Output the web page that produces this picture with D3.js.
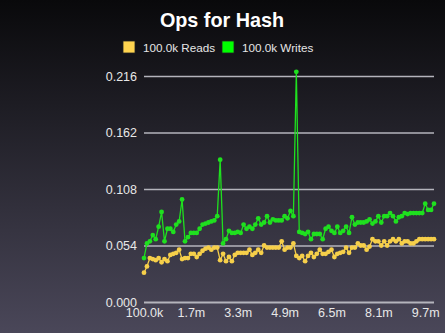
<!DOCTYPE html>
<html>
<head>
<meta charset="utf-8">
<script src="https://cdn.jsdelivr.net/npm/d3@7/dist/d3.min.js"></script>
<style>
  html, body { margin: 0; padding: 0; background: #000; }
  svg { display: block; font-family: "Liberation Sans", Arial, Helvetica, sans-serif; }
</style>
</head>
<body>
<svg id="chart" width="445" height="333"></svg>
<script>
// Operation counts (in 100k steps) on the x axis
const opCounts = d3.range(100).map(i => (i + 1) * 100000);

// Seconds per 100k operations
const readTimes = [
  0.028, 0.034, 0.042, 0.041, 0.040, 0.042, 0.038, 0.041, 0.039, 0.045,
  0.046, 0.047, 0.050, 0.041, 0.042, 0.042, 0.046, 0.046, 0.043, 0.046,
  0.049, 0.051, 0.052, 0.050, 0.052, 0.052, 0.040, 0.046, 0.039, 0.043,
  0.039, 0.045, 0.047, 0.047, 0.047, 0.047, 0.050, 0.045, 0.047, 0.050,
  0.047, 0.054, 0.052, 0.052, 0.052, 0.052, 0.052, 0.058, 0.050, 0.052,
  0.052, 0.056, 0.044, 0.042, 0.044, 0.039, 0.044, 0.047, 0.043, 0.046,
  0.050, 0.046, 0.046, 0.048, 0.050, 0.043, 0.046, 0.047, 0.048, 0.052,
  0.047, 0.052, 0.052, 0.056, 0.054, 0.054, 0.050, 0.053, 0.060, 0.058,
  0.058, 0.054, 0.058, 0.054, 0.058, 0.060, 0.058, 0.060, 0.056, 0.058,
  0.058, 0.056, 0.056, 0.058, 0.060, 0.060, 0.060, 0.060, 0.060, 0.060
];

const writeTimes = [
  0.042, 0.056, 0.058, 0.064, 0.060, 0.072, 0.086, 0.058, 0.070, 0.070,
  0.067, 0.074, 0.077, 0.098, 0.058, 0.062, 0.066, 0.066, 0.066, 0.070,
  0.074, 0.075, 0.076, 0.077, 0.078, 0.082, 0.136, 0.056, 0.060, 0.068,
  0.066, 0.066, 0.067, 0.066, 0.074, 0.070, 0.072, 0.070, 0.074, 0.080,
  0.074, 0.076, 0.082, 0.076, 0.079, 0.078, 0.078, 0.078, 0.082, 0.080,
  0.087, 0.082, 0.220, 0.067, 0.066, 0.065, 0.067, 0.060, 0.065, 0.065,
  0.065, 0.060, 0.070, 0.072, 0.068, 0.066, 0.072, 0.066, 0.068, 0.072,
  0.066, 0.081, 0.074, 0.076, 0.076, 0.076, 0.077, 0.079, 0.075, 0.077,
  0.082, 0.076, 0.082, 0.082, 0.085, 0.082, 0.077, 0.081, 0.082, 0.085,
  0.084, 0.085, 0.085, 0.085, 0.085, 0.085, 0.094, 0.088, 0.088, 0.094
];

const xTickValues = [100000, 1700000, 3300000, 4900000, 6500000, 8100000, 9700000];
const xTickLabels = ["100.0k", "1.7m", "3.3m", "4.9m", "6.5m", "8.1m", "9.7m"];
const yTickValues = [0, 0.054, 0.108, 0.162, 0.216];
const yTickLabels = ["0.000", "0.054", "0.108", "0.162", "0.216"];

const seriesNames = ["100.0k Reads", "100.0k Writes"];
const seriesColors = ["#ffd44f", "#00ff00"];
const lineColors = ["#f6cf4a", "#1fe01f"];

const W = 445, H = 333;
const svg = d3.select("#chart");

// Background gradient, near black at the top fading to slate
const defs = svg.append("defs");
const grad = defs.append("linearGradient")
  .attr("id", "bg").attr("x1", 0).attr("y1", 0).attr("x2", 0).attr("y2", 1);
grad.append("stop").attr("offset", "0%").attr("stop-color", "#09090b");
grad.append("stop").attr("offset", "100%").attr("stop-color", "#4a4759");
svg.append("rect").attr("width", W).attr("height", H).attr("fill", "url(#bg)");

const x = d3.scaleLinear().domain([100000, 10000000]).range([144, 434]);
const y = d3.scaleLinear().domain([0, 0.216]).range([302, 76]);

// Title
svg.append("text")
  .attr("x", 222).attr("y", 27)
  .attr("text-anchor", "middle")
  .attr("fill", "#ffffff")
  .attr("font-size", 19.8).attr("font-weight", "bold")
  .text("Ops for Hash");

// Legend
const legendX = [123, 222];
seriesNames.forEach((name, i) => {
  const g = svg.append("g").attr("transform", `translate(${legendX[i]},41)`);
  g.append("rect").attr("width", 12).attr("height", 12)
    .attr("fill", seriesColors[i]).attr("stroke", "#222").attr("stroke-width", 0.8);
  g.append("text").attr("x", 20).attr("y", 10.5)
    .attr("fill", "#e6e6e6").attr("font-size", 11.7).text(name);
});

// Horizontal gridlines and y labels
const yAxis = d3.axisLeft(y)
  .tickValues(yTickValues)
  .tickFormat((d, i) => yTickLabels[i])
  .tickSize(-(x.range()[1] - x.range()[0]))
  .tickPadding(7);
const gy = svg.append("g").attr("transform", `translate(${x.range()[0]},0)`).call(yAxis);
gy.select(".domain").remove();
gy.selectAll(".tick line")
  .attr("stroke", "#b4b4bc").attr("stroke-width", d => d === 0 ? 2 : 1.5);
gy.selectAll(".tick text")
  .attr("fill", "#e8e8e8").attr("font-size", 12.5)
  .attr("font-family", "Liberation Sans, Arial, sans-serif");

// X labels
const xAxis = d3.axisBottom(x)
  .tickValues(xTickValues)
  .tickFormat((d, i) => xTickLabels[i])
  .tickSize(0)
  .tickPadding(6);
const gx = svg.append("g").attr("transform", `translate(0,${y(0)})`).call(xAxis);
gx.select(".domain").remove();
gx.selectAll(".tick text")
  .attr("fill", "#e8e8e8").attr("font-size", 12.5)
  .attr("font-family", "Liberation Sans, Arial, sans-serif");

// Series lines with point markers
const series = [readTimes, writeTimes];
series.forEach((vals, si) => {
  const pts = vals.map((v, i) => [opCounts[i], v]);
  svg.append("path")
    .datum(pts)
    .attr("fill", "none")
    .attr("stroke", lineColors[si])
    .attr("stroke-width", 1.3)
    .attr("d", d3.line().x(d => x(d[0])).y(d => y(d[1])));
  svg.append("g").selectAll("circle")
    .data(pts).join("circle")
    .attr("cx", d => x(d[0])).attr("cy", d => y(d[1]))
    .attr("r", 2.4)
    .attr("fill", lineColors[si]);
});
</script>
</body>
</html>
